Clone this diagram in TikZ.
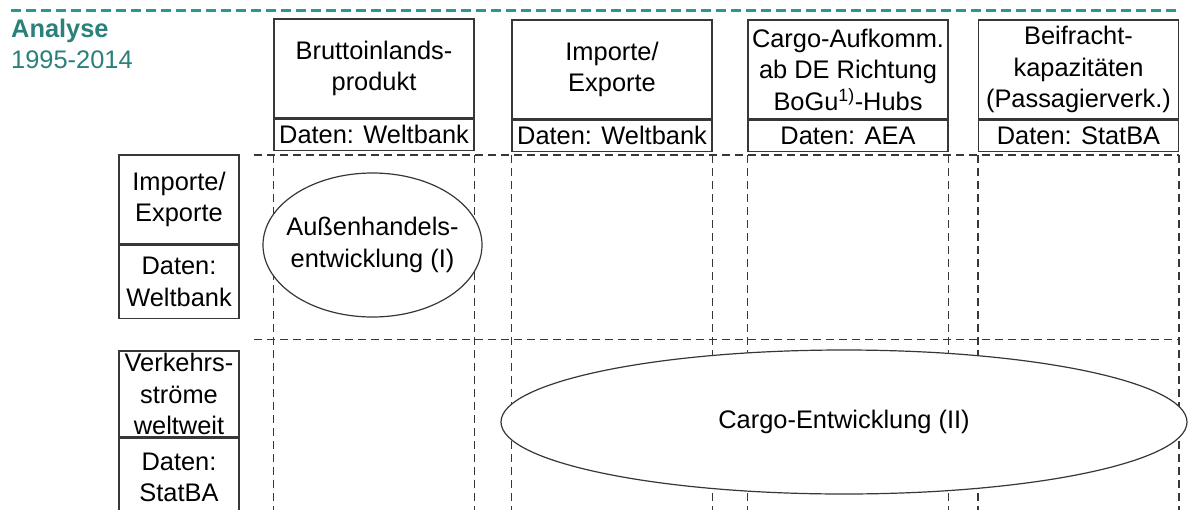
\documentclass[tikz,border=0pt]{standalone}
\usepackage{fontspec}
\setmainfont{Liberation Sans}
\usetikzlibrary{shapes.geometric}
\definecolor{tealline}{RGB}{40,152,145}
\definecolor{tealtext}{RGB}{42,128,122}
\definecolor{boxline}{RGB}{55,55,55}
\newcommand\fsz{\fontsize{25.4}{31.5}\selectfont}
\begin{document}
\begin{tikzpicture}[x=1pt,y=-1pt,
  box/.style={draw=boxline, line width=1.2pt, align=center, inner sep=0pt, font=\fsz},
  colhead/.style={box, minimum width=200pt, minimum height=99pt},
  coldata/.style={box, minimum width=200pt, minimum height=31pt, anchor=north},
  rowbox/.style={box, minimum width=120pt},
  gridline/.style={draw=boxline, line width=1.3pt, dash pattern=on 8pt off 5pt},
  bubble/.style={ellipse, draw=boxline, line width=1.2pt, fill=white, inner sep=0pt},
  txt/.style={align=center, inner sep=0pt, font=\fsz},
  title/.style={anchor=base west, inner sep=0pt, text=tealtext, font=\fsz}
]
\useasboundingbox (0,0) rectangle (1188,509);
\clip (0,0) rectangle (1188,509);

% top teal dashed rule
\coordinate (tl) at (11,10);
\coordinate (tr) at (1178,10);
\draw[tealline, line width=3pt, dash pattern=on 10pt off 5pt] (tl) -- (tr);

% title
\node[title, font=\fsz\bfseries] (ana) at (11,37) {Analyse};
\node[title] (yrs) at (11,68) {1995-2014};

% column headers
\node[colhead] (h1) at (374,68.5) {Bruttoinlands-\\produkt};
\node[coldata] (d1) at (h1.south) {Daten: Weltbank};
\node[colhead] (h2) at (612,69.5) {Importe/\\Exporte};
\node[coldata] (d2) at (h2.south) {Daten: Weltbank};
\node[colhead] (h3) at (848,69.5) {Cargo-Aufkomm.\\ab DE Richtung\\BoGu\textsuperscript{1)}-Hubs};
\node[coldata] (d3) at (h3.south) {Daten: AEA};
\node[colhead] (h4) at (1078.5,69.5) {Beifracht-\\kapazitäten\\(Passagierverk.)};
\node[coldata] (d4) at (h4.south) {Daten: StatBA};

% row headers
\node[rowbox, minimum height=89pt] (r1) at (179,199.5) {Importe/\\Exporte};
\node[rowbox, minimum height=73pt, anchor=north] (r1d) at (r1.south) {Daten:\\Weltbank};
\node[rowbox, minimum height=86pt] (r2) at (179,394) {Verkehrs-\\ströme\\weltweit};
\node[rowbox, minimum height=78pt, anchor=north] (r2d) at (r2.south) {Daten:\\StatBA};

% dashed grid
\draw[gridline] (254,155) -- (1179,155);
\draw[gridline] (254,339.5) -- (1179,339.5);
\foreach \n in {d1,d2,d3,d4}{
  \draw[gridline] (\n.south west |- 0,155) -- (\n.south west |- 0,515);
  \draw[gridline] (\n.south east |- 0,155) -- (\n.south east |- 0,515);
}

% bubbles
\node[bubble, minimum width=219pt, minimum height=144pt] (e1) at (372.5,245) {};
\node[txt] (e1t) at (e1.center) {Außenhandels-\\entwicklung (I)};
\node[bubble, minimum width=686pt, minimum height=144pt] (e2) at (844,422) {};
\node[txt] (e2t) at (e2.center) {Cargo-Entwicklung (II)};
\end{tikzpicture}
\end{document}
